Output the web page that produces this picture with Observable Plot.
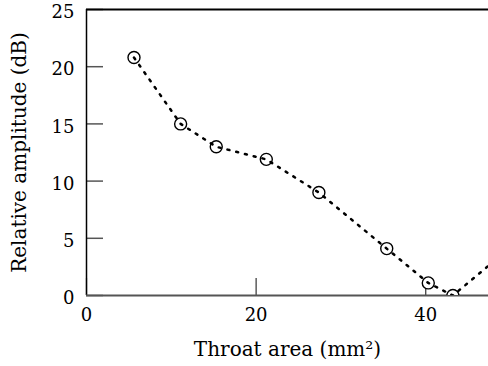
<!DOCTYPE html>
<html>
<head>
<meta charset="utf-8">
<script src="https://cdn.jsdelivr.net/npm/d3@7"></script>
<script src="https://cdn.jsdelivr.net/npm/@observablehq/plot@0.6"></script>
<style>
  html, body { margin: 0; padding: 0; background: #fff; }
  svg { display: block; }
</style>
</head>
<body>
<div id="chart"></div>
<script>
// Data
const throatArea = [5.6, 11.1, 15.3, 21.2, 27.4, 35.4, 40.3, 43.2, 50.0];
const amplitude  = [20.8, 15.0, 13.0, 11.9, 9.0, 4.1, 1.1, 0.0, 4.2];
const xTicks = [0, 20, 40];
const yTicks = [0, 5, 10, 15, 20, 25];
const xLabel = "Throat area (mm²)";
const yLabel = "Relative amplitude (dB)";

const data = throatArea.map((x, i) => ({x, y: amplitude[i]}));
const font = "'DejaVu Serif', serif";

const chart = Plot.plot({
  width: 488,
  height: 366,
  marginLeft: 86,
  marginRight: 0,
  marginTop: 9,
  marginBottom: 71,
  style: {fontFamily: font, fontSize: "18px", background: "#fff", color: "#000"},
  x: {domain: [0, 47.4]},
  y: {domain: [0, 25]},
  marks: [
    Plot.axisX({ticks: xTicks, tickSize: -17, tickPadding: 30, label: null, stroke: "#333", strokeWidth: 1.2, fontSize: 18}),
    Plot.axisY({ticks: yTicks, tickSize: -17, tickFormat: () => "", label: null, stroke: "#555", strokeWidth: 1.5}),
    Plot.axisY({ticks: yTicks, tickSize: 0, tickPadding: 12, dy: 3, label: null, fontSize: 18}),
    Plot.ruleX([0], {stroke: "#000", strokeWidth: 1.5}),
    Plot.ruleY([25], {stroke: "#000", strokeWidth: 2}),
    Plot.ruleY([0], {stroke: "#555", strokeWidth: 2}),
    Plot.dot(data, {x: "x", y: "y", r: 6, fill: "#fff", stroke: "#000", strokeWidth: 1.4, clip: true}),
    Plot.line(data, {x: "x", y: "y", stroke: "#000", strokeWidth: 2.5, strokeDasharray: "2 7", clip: true}),
    Plot.text([xLabel], {frameAnchor: "bottom", dy: 60, fontSize: 20, text: d => d}),
    Plot.text([yLabel], {frameAnchor: "left", textAnchor: "middle", dx: -67, rotate: -90, fontSize: 20, text: d => d})
  ]
});
document.getElementById("chart").appendChild(chart);
</script>
</body>
</html>
